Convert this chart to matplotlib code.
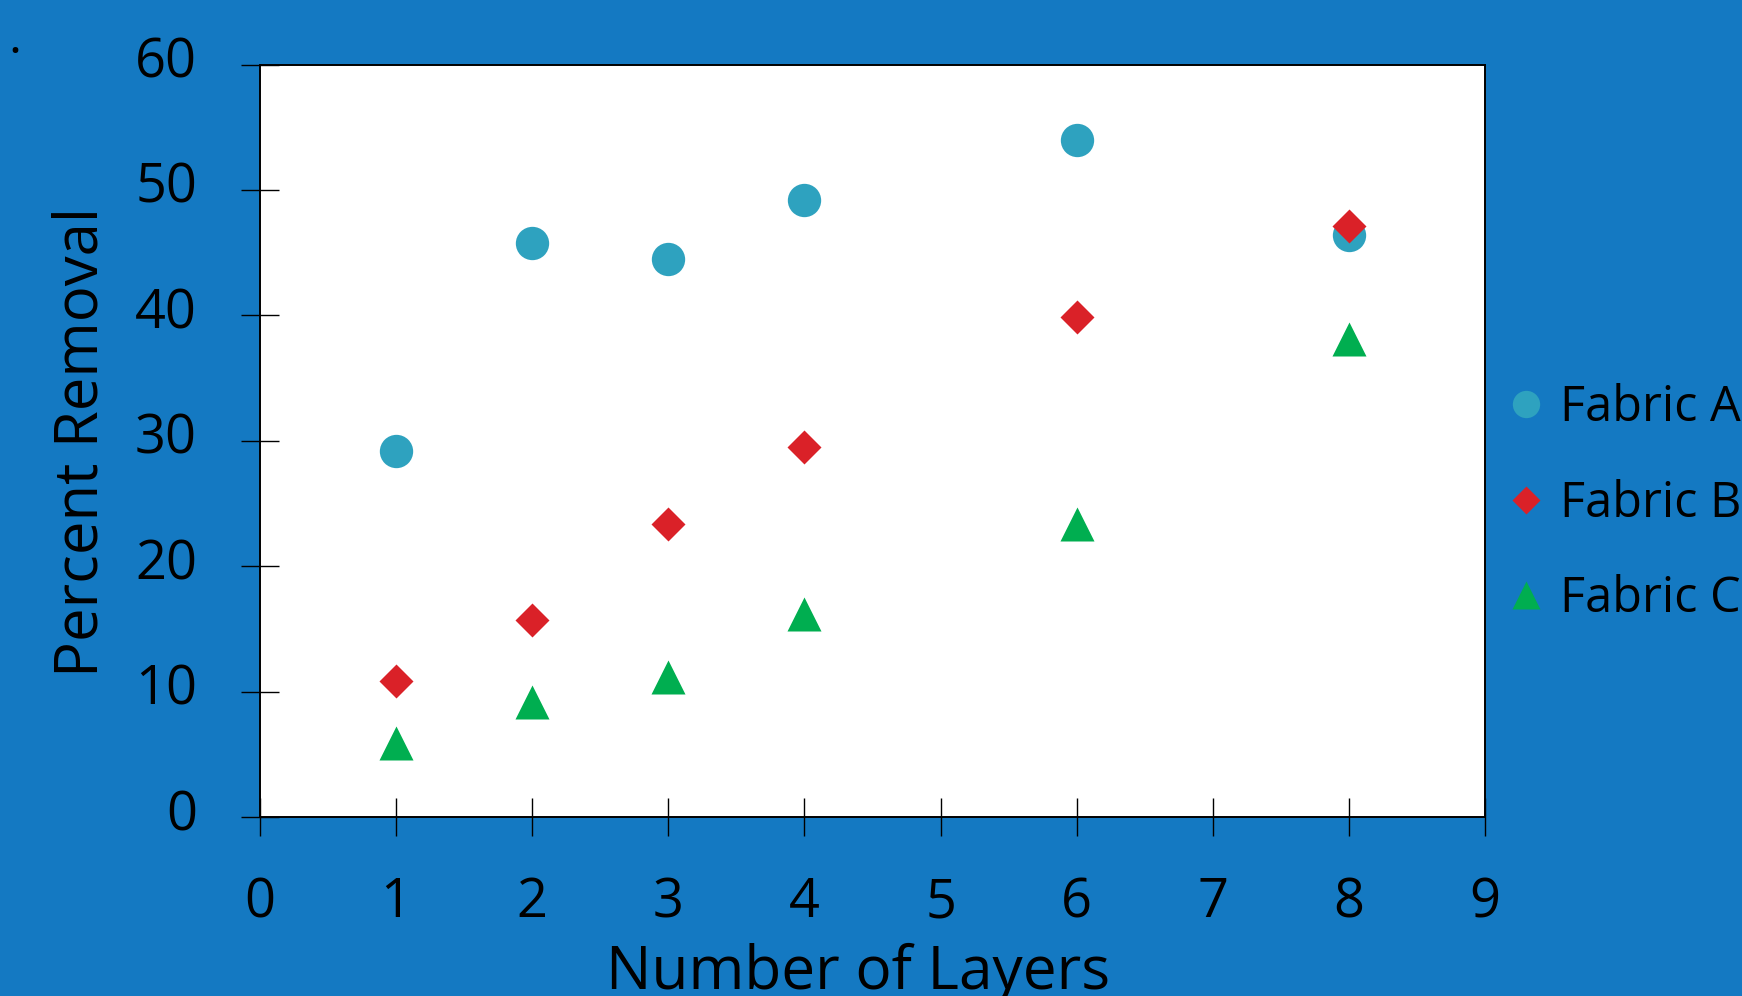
import matplotlib
matplotlib.use('Agg')
import matplotlib.pyplot as plt
import matplotlib.transforms as mtransforms

# data
layers = [1, 2, 3, 4, 6, 8]
fabric_a = [29.2, 45.8, 44.5, 49.2, 54.0, 46.4]
fabric_b = [10.9, 15.7, 23.4, 29.5, 39.9, 47.1]
fabric_c = [5.9, 9.2, 11.2, 16.2, 23.4, 38.1]
series_names = ['Fabric A', 'Fabric B', 'Fabric C']
x_ticks = list(range(0, 10))
y_ticks = list(range(0, 70, 10))

bg = '#1479c2'
col_a = '#2ea2bf'
col_b = '#da2128'
col_c = '#00ae50'

plt.rcParams['font.family'] = ['Open Sans', 'DejaVu Sans']

fig = plt.figure(figsize=(17.42, 9.96), dpi=100, facecolor=bg)
ax = fig.add_axes([0.14925, 0.17942, 0.70322, 0.75582])
ax.set_facecolor('white')

ax.plot(layers, fabric_a, ls='none', marker='o', ms=24, color=col_a, mec='none', label=series_names[0])
ax.plot(layers, fabric_b, ls='none', marker='D', ms=17, color=col_b, mec='none', label=series_names[1])
ax.plot(layers, fabric_c, ls='none', marker='^', ms=24, color=col_c, mec='none', label=series_names[2])

ax.set_xlim(0, 9)
ax.set_ylim(0, 60)
ax.set_xticks(x_ticks)
ax.set_yticks(y_ticks)

for s in ax.spines.values():
    s.set_linewidth(1.4)
    s.set_color('black')

ax.tick_params(axis='both', direction='inout', length=27.4, width=1.0, color='black',
               labelsize=39, labelcolor='black')
ax.tick_params(axis='y', pad=31.7)
ax.tick_params(axis='x', pad=28)

# y tick labels sit a little above their ticks in the original
shift_up = mtransforms.ScaledTranslation(0, 8 / 100, fig.dpi_scale_trans)
for lbl in ax.get_yticklabels():
    lbl.set_transform(lbl.get_transform() + shift_up)

ax.set_xlabel('Number of Layers', fontsize=43.5, color='black')
ax.xaxis.set_label_coords(0.4886, -0.228)
ax.xaxis.label.set_verticalalignment('baseline')

ax.set_ylabel('Percent Removal', fontsize=43, color='black')
ax.yaxis.set_label_coords(-0.1698, 0.4992)
ax.yaxis.label.set_horizontalalignment('center')
ax.yaxis.label.set_verticalalignment('top')

leg = ax.legend(loc='center left', bbox_to_anchor=(0.862, 0.494), bbox_transform=fig.transFigure,
                frameon=False, fontsize=35, markerscale=0.82, handlelength=1.0,
                handletextpad=0.2, labelspacing=0.95, borderpad=0, borderaxespad=0)
for t in leg.get_texts():
    t.set_color('black')

fig.text(0.0086, 0.9468, '.', fontsize=36, color='black', ha='center', va='baseline')

fig.savefig('out.png', dpi=100, facecolor=bg)
